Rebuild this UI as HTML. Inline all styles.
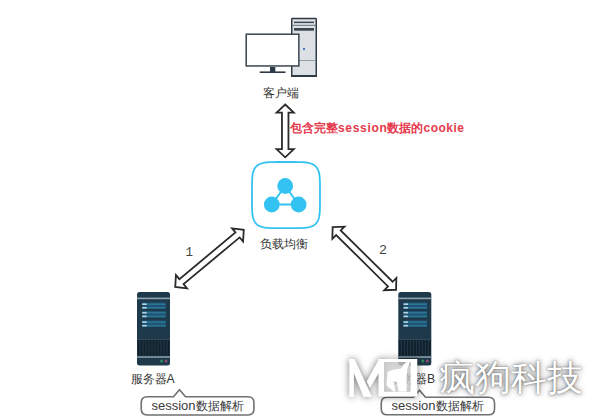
<!DOCTYPE html>
<html><head><meta charset="utf-8">
<style>
html,body{margin:0;padding:0;background:#fff;}
body{width:600px;height:418px;position:relative;overflow:hidden;font-family:"Liberation Sans",sans-serif;color:#333;}
.t{position:absolute;white-space:nowrap;line-height:1;}
svg{position:absolute;left:0;top:0;}
</style></head><body>
<svg width="600" height="418" viewBox="0 0 600 418">
  

  <!-- computer -->
  <rect x="291.75" y="18.55" width="24.5" height="57.7" rx="0.6" fill="#dde1e6" stroke="#2f3a44" stroke-width="1.5"/>
  <rect x="291" y="75" width="26" height="2" fill="#2f3a44"/>
  <rect x="294" y="21.6" width="20" height="1.5" fill="#3a4550"/>
  <line x1="292.5" y1="25.3" x2="316" y2="25.3" stroke="#5a6570" stroke-width="0.9"/>
  <rect x="294" y="28" width="20" height="2.7" fill="#3a4550"/>
  <line x1="292.5" y1="60.5" x2="316" y2="60.5" stroke="#8b959e" stroke-width="0.9"/>
  <circle cx="304" cy="49" r="1.2" fill="#5577cc"/>
  <rect x="246.2" y="34.2" width="52.65" height="31.75" fill="#fff" stroke="#3a4550" stroke-width="1.5"/>
  <rect x="270" y="67" width="5.3" height="5" fill="#2a3a48"/>
  <rect x="259.7" y="71.4" width="25.8" height="1.6" fill="#2f3a44"/>

  <!-- arrows -->
  <g transform="translate(285.2,130.9) rotate(90)">
      <polygon points="-26.4,0 -18.3,-8.6 -18.3,-3.25 18.3,-3.25 18.3,-8.6 26.4,0 18.3,8.6 18.3,3.25 -18.3,3.25 -18.3,8.6" fill="#fff" stroke="#2b2b2b" stroke-width="1.8" stroke-linejoin="miter"/>
  </g>
  <g transform="translate(209.5,258.3) rotate(-39.8)">
      <polygon points="-44.60,0.00 -36.50,-8.60 -36.50,-3.25 36.50,-3.25 36.50,-8.60 44.60,0.00 36.50,8.60 36.50,3.25 -36.50,3.25 -36.50,8.60" fill="#fff" stroke="#2b2b2b" stroke-width="1.8" stroke-linejoin="miter"/>
  </g>
  <g transform="translate(364.35,258.4) rotate(44.7)">
      <polygon points="-44.60,0.00 -36.50,-8.60 -36.50,-3.25 36.50,-3.25 36.50,-8.60 44.60,0.00 36.50,8.60 36.50,3.25 -36.50,3.25 -36.50,8.60" fill="#fff" stroke="#2b2b2b" stroke-width="1.8" stroke-linejoin="miter"/>
  </g>

  <!-- LB icon -->
  <path d="M320.00,195.10 L319.99,204.17 L319.96,207.06 L319.91,209.16 L319.83,210.86 L319.74,212.32 L319.62,213.60 L319.48,214.75 L319.32,215.79 L319.14,216.75 L318.94,217.64 L318.71,218.47 L318.47,219.23 L318.19,219.96 L317.90,220.63 L317.58,221.27 L317.24,221.86 L316.87,222.42 L316.47,222.95 L316.05,223.45 L315.60,223.92 L315.12,224.35 L314.61,224.77 L314.07,225.15 L313.49,225.51 L312.88,225.84 L312.22,226.16 L311.53,226.44 L310.79,226.71 L310.00,226.95 L309.15,227.17 L308.24,227.37 L307.26,227.54 L306.18,227.70 L305.00,227.83 L303.68,227.94 L302.19,228.04 L300.44,228.11 L298.28,228.16 L295.31,228.19 L286.00,228.20 L276.69,228.19 L273.72,228.16 L271.56,228.11 L269.81,228.04 L268.32,227.94 L267.00,227.83 L265.82,227.70 L264.74,227.54 L263.76,227.37 L262.85,227.17 L262.00,226.95 L261.21,226.71 L260.47,226.44 L259.78,226.16 L259.12,225.84 L258.51,225.51 L257.93,225.15 L257.39,224.77 L256.88,224.35 L256.40,223.92 L255.95,223.45 L255.53,222.95 L255.13,222.42 L254.76,221.86 L254.42,221.27 L254.10,220.63 L253.81,219.96 L253.53,219.23 L253.29,218.47 L253.06,217.64 L252.86,216.75 L252.68,215.79 L252.52,214.75 L252.38,213.60 L252.26,212.32 L252.17,210.86 L252.09,209.16 L252.04,207.06 L252.01,204.17 L252.00,195.10 L252.01,186.03 L252.04,183.14 L252.09,181.04 L252.17,179.34 L252.26,177.88 L252.38,176.60 L252.52,175.45 L252.68,174.41 L252.86,173.45 L253.06,172.56 L253.29,171.73 L253.53,170.97 L253.81,170.24 L254.10,169.57 L254.42,168.93 L254.76,168.34 L255.13,167.78 L255.53,167.25 L255.95,166.75 L256.40,166.28 L256.88,165.85 L257.39,165.43 L257.93,165.05 L258.51,164.69 L259.12,164.36 L259.78,164.04 L260.47,163.76 L261.21,163.49 L262.00,163.25 L262.85,163.03 L263.76,162.83 L264.74,162.66 L265.82,162.50 L267.00,162.37 L268.32,162.26 L269.81,162.16 L271.56,162.09 L273.72,162.04 L276.69,162.01 L286.00,162.00 L295.31,162.01 L298.28,162.04 L300.44,162.09 L302.19,162.16 L303.68,162.26 L305.00,162.37 L306.18,162.50 L307.26,162.66 L308.24,162.83 L309.15,163.03 L310.00,163.25 L310.79,163.49 L311.53,163.76 L312.22,164.04 L312.88,164.36 L313.49,164.69 L314.07,165.05 L314.61,165.43 L315.12,165.85 L315.60,166.28 L316.05,166.75 L316.47,167.25 L316.87,167.78 L317.24,168.34 L317.58,168.93 L317.90,169.57 L318.19,170.24 L318.47,170.97 L318.71,171.73 L318.94,172.56 L319.14,173.45 L319.32,174.41 L319.48,175.45 L319.62,176.60 L319.74,177.88 L319.83,179.34 L319.91,181.04 L319.96,183.14 L319.99,186.03 Z" fill="#fff" stroke="#33c2f2" stroke-width="1.8"/>
  <g stroke="#33c2f2" stroke-width="2" fill="none">
    <line x1="285.2" y1="186" x2="271.8" y2="204.5"/>
    <line x1="285.2" y1="186" x2="298.6" y2="204.5"/>
    <line x1="271.8" y1="204.5" x2="298.6" y2="204.5"/>
  </g>
  <g fill="#33c2f2">
    <circle cx="285.2" cy="186" r="7.9"/>
    <circle cx="271.8" cy="204.5" r="7.9"/>
    <circle cx="298.6" cy="204.5" r="7.9"/>
  </g>

  <!-- servers -->
  <g transform="translate(137,292)">
      <rect x="0" y="0" width="33" height="73.6" rx="2.5" fill="#1e3a4a"/>
      <rect x="0" y="5.6" width="33" height="1.6" fill="#8ea2b1"/>
      <rect x="5.2" y="10.5" width="23.5" height="6.5" fill="#1f5274"/>
      <rect x="5.2" y="19" width="23.5" height="6.5" fill="#1f5274"/>
      <rect x="5.2" y="28.4" width="23.5" height="6.5" fill="#1f5274"/>
      <rect x="5.2" y="11.4" width="23.5" height="1.6" fill="#2a7594"/>
      <rect x="5.2" y="15" width="23.5" height="1.6" fill="#2a7594"/>
      <rect x="5.2" y="19.9" width="23.5" height="1.6" fill="#2a7594"/>
      <rect x="5.2" y="23.6" width="23.5" height="1.6" fill="#2a7594"/>
      <rect x="5.2" y="29.3" width="23.5" height="1.6" fill="#2a7594"/>
      <rect x="5.2" y="32.9" width="23.5" height="1.6" fill="#2a7594"/>
      <rect x="5.2" y="11.4" width="4.5" height="1.6" fill="#b4d2e2"/>
      <rect x="5.2" y="15" width="4.5" height="1.6" fill="#b4d2e2"/>
      <rect x="5.2" y="19.9" width="4.5" height="1.6" fill="#b4d2e2"/>
      <rect x="5.2" y="23.6" width="4.5" height="1.6" fill="#b4d2e2"/>
      <rect x="5.2" y="29.3" width="4.5" height="1.6" fill="#b4d2e2"/>
      <rect x="5.2" y="32.9" width="4.5" height="1.6" fill="#b4d2e2"/>
      <rect x="0" y="47.3" width="33" height="0.8" fill="#3b5162"/>
      <rect x="0.5" y="48.1" width="32" height="15.6" fill="#10202c"/>
      <g stroke="#2b4353" stroke-width="0.8">
        <line x1="3" y1="48" x2="3" y2="63.6"/><line x1="6" y1="48" x2="6" y2="63.6"/>
        <line x1="9" y1="48" x2="9" y2="63.6"/><line x1="12" y1="48" x2="12" y2="63.6"/>
        <line x1="15" y1="48" x2="15" y2="63.6"/><line x1="18" y1="48" x2="18" y2="63.6"/>
        <line x1="21" y1="48" x2="21" y2="63.6"/><line x1="24" y1="48" x2="24" y2="63.6"/>
        <line x1="27" y1="48" x2="27" y2="63.6"/><line x1="30" y1="48" x2="30" y2="63.6"/>
      </g>
      <rect x="0" y="64.2" width="33" height="1.6" fill="#8a9aa6"/>
      <circle cx="24.5" cy="69" r="1.5" fill="#2f8a62"/>
      <circle cx="29" cy="69" r="1.5" fill="#8e4a72"/>
  </g>
  <g transform="translate(398.3,292)">
      <rect x="0" y="0" width="33" height="73.6" rx="2.5" fill="#1e3a4a"/>
      <rect x="0" y="5.6" width="33" height="1.6" fill="#8ea2b1"/>
      <rect x="5.2" y="10.5" width="23.5" height="6.5" fill="#1f5274"/>
      <rect x="5.2" y="19" width="23.5" height="6.5" fill="#1f5274"/>
      <rect x="5.2" y="28.4" width="23.5" height="6.5" fill="#1f5274"/>
      <rect x="5.2" y="11.4" width="23.5" height="1.6" fill="#2a7594"/>
      <rect x="5.2" y="15" width="23.5" height="1.6" fill="#2a7594"/>
      <rect x="5.2" y="19.9" width="23.5" height="1.6" fill="#2a7594"/>
      <rect x="5.2" y="23.6" width="23.5" height="1.6" fill="#2a7594"/>
      <rect x="5.2" y="29.3" width="23.5" height="1.6" fill="#2a7594"/>
      <rect x="5.2" y="32.9" width="23.5" height="1.6" fill="#2a7594"/>
      <rect x="5.2" y="11.4" width="4.5" height="1.6" fill="#b4d2e2"/>
      <rect x="5.2" y="15" width="4.5" height="1.6" fill="#b4d2e2"/>
      <rect x="5.2" y="19.9" width="4.5" height="1.6" fill="#b4d2e2"/>
      <rect x="5.2" y="23.6" width="4.5" height="1.6" fill="#b4d2e2"/>
      <rect x="5.2" y="29.3" width="4.5" height="1.6" fill="#b4d2e2"/>
      <rect x="5.2" y="32.9" width="4.5" height="1.6" fill="#b4d2e2"/>
      <rect x="0" y="47.3" width="33" height="0.8" fill="#3b5162"/>
      <rect x="0.5" y="48.1" width="32" height="15.6" fill="#10202c"/>
      <g stroke="#2b4353" stroke-width="0.8">
        <line x1="3" y1="48" x2="3" y2="63.6"/><line x1="6" y1="48" x2="6" y2="63.6"/>
        <line x1="9" y1="48" x2="9" y2="63.6"/><line x1="12" y1="48" x2="12" y2="63.6"/>
        <line x1="15" y1="48" x2="15" y2="63.6"/><line x1="18" y1="48" x2="18" y2="63.6"/>
        <line x1="21" y1="48" x2="21" y2="63.6"/><line x1="24" y1="48" x2="24" y2="63.6"/>
        <line x1="27" y1="48" x2="27" y2="63.6"/><line x1="30" y1="48" x2="30" y2="63.6"/>
      </g>
      <rect x="0" y="64.2" width="33" height="1.6" fill="#8a9aa6"/>
      <circle cx="24.5" cy="69" r="1.5" fill="#2f8a62"/>
      <circle cx="29" cy="69" r="1.5" fill="#8e4a72"/>
  </g>

  <!-- labels -->
  <path d="M147.25,396.75 L173.5,396.75 L179.5,389.8 L185.5,396.75 L247.95,396.75 Q253.95,396.75 253.95,402.75 L253.95,409 Q253.95,415 247.95,415 L147.25,415 Q141.25,415 141.25,409 L141.25,402.75 Q141.25,396.75 147.25,396.75 Z" fill="#fff" stroke="#707070" stroke-width="1.6"/>
  <path d="M387.25,397.25 L413.5,397.25 L419.5,390.3 L425.5,397.25 L488.55,397.25 Q494.55,397.25 494.55,403.25 L494.55,408.8 Q494.55,414.8 488.55,414.8 L387.25,414.8 Q381.25,414.8 381.25,408.8 L381.25,403.25 Q381.25,397.25 387.25,397.25 Z" fill="#fff" stroke="#707070" stroke-width="1.6"/>
</svg>

<div class="t" style="left:263px;top:86.8px;font-size:12.2px;">客户端</div>
<div class="t" style="left:290px;top:122px;font-size:12px;font-weight:bold;color:#e6394c;">包含完整<span style="letter-spacing:0.68px">session</span>数据的<span style="letter-spacing:0.5px">cookie</span></div>
<div class="t" style="left:260.3px;top:238.2px;font-size:12.2px;">负载均衡</div>
<div class="t" style="left:185.5px;top:246.5px;font-size:12.5px;color:#444;font-family:'Liberation Mono',monospace;">1</div>
<div class="t" style="left:379.2px;top:242.6px;font-size:13.5px;color:#444;">2</div>
<div class="t" style="left:130.5px;top:373.2px;font-size:12.2px;">服务器A</div>
<div class="t" style="left:391px;top:373px;font-size:12.2px;">服务器B</div>
<div class="t" style="left:151.5px;top:399px;font-size:13px;color:#3a3a3a;">session<span style="font-size:12px">数据解析</span></div>
<div class="t" style="left:391.5px;top:399px;font-size:13px;color:#3a3a3a;">session<span style="font-size:12px">数据解析</span></div>

<!-- watermark -->
<svg width="600" height="418" viewBox="0 0 600 418" style="filter:drop-shadow(0 0 3.5px rgba(0,0,0,0.55));">
  <g fill="#fff">
    <rect x="349.3" y="358.9" width="4.6" height="38"/>
    <polygon points="349.3,358.9 354.6,358.9 372,396.9 363.5,396.9 349.3,362"/>
    <polygon points="379,358.9 384.1,358.9 384.1,364 370,388 366.7,381.4"/>
    <path d="M378.5,358.9 H417.3 V396.6 H378.5 Z M384.1,362 V391.6 H410.3 V362 Z" fill-rule="evenodd"/>
  </g>
</svg>
<svg width="600" height="418" viewBox="0 0 600 418">
  <rect x="384.1" y="362" width="26.2" height="29.6" fill="#cdcdcd" fill-opacity="0.8"/>
  <polygon fill="#fff" points="401.5,368.5 403.5,364.5 406.6,362 410,362 407.5,368 406.6,376 406.6,391.6 398.4,391.6 397,382 393.5,381 395.5,391.6 393.6,391.6 386.5,385.5 387.2,377 387.7,371.8 393,369.8"/>
</svg>
<div class="t" style="left:438.8px;top:360.8px;font-size:35.5px;color:#fff;text-shadow:0 0 2px rgba(0,0,0,0.5),0 0 5px rgba(0,0,0,0.45),0 0 8px rgba(0,0,0,0.2);">疯狗科技</div>
</body></html>
